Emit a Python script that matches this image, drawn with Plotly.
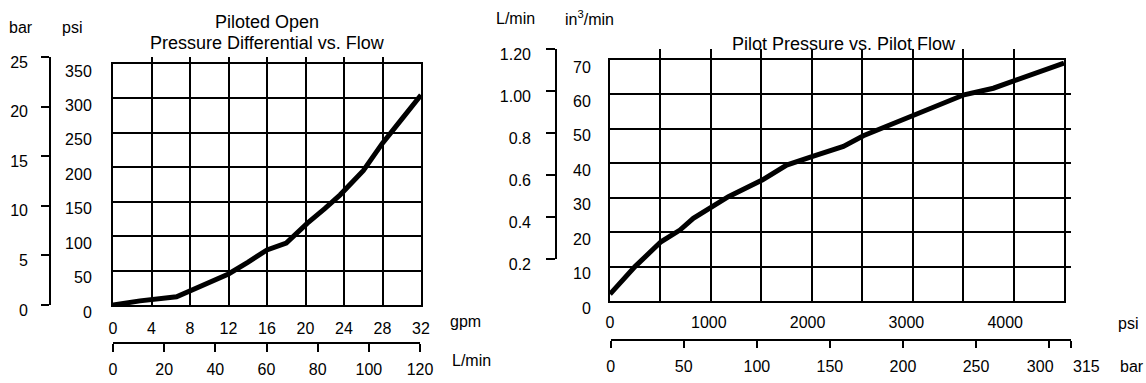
import plotly.graph_objects as go

W, H = 1146, 383

# ---- data: left chart (Piloted Open Pressure Differential vs. Flow)
flow_gpm = [0, 2.8, 6.6, 8.1, 10, 12, 14, 16, 18, 20.2, 22, 23.6, 26, 28, 30, 32]
dp_psi = [0, 6, 12, 21, 33, 45, 62, 80, 90, 119, 140, 160, 195, 235, 270, 305]

# ---- data: right chart (Pilot Pressure vs. Pilot Flow)
pilot_psi = [0, 253, 516, 708, 843, 1035, 1198, 1545, 1788, 2051, 2362, 2564, 2834,
             3070, 3583, 3880, 4082, 4595]
pilot_flow_in3 = [2.0, 10.0, 17.2, 20.6, 24.0, 27.4, 30.3, 35.2, 39.5, 42.0, 44.9, 48.0,
                  51.2, 54.1, 59.9, 61.8, 63.8, 69.1]

# tick labels
gpm_ticks = [0, 4, 8, 12, 16, 20, 24, 28, 32]
lmin_ticks = [0, 20, 40, 60, 80, 100, 120]
psi_ticks_left = [0, 50, 100, 150, 200, 250, 300, 350]
bar_ticks_left = [0, 5, 10, 15, 20, 25]
psi_ticks_right = [0, 1000, 2000, 3000, 4000]
bar_ticks_right = [0, 50, 100, 150, 200, 250, 300, 315]
bar_text_right = ["0", "50", "100", "150", "200", "250", "300" + "\u00a0" * 4, ""]
bar_last_label = 315
in3_ticks = [0, 10, 20, 30, 40, 50, 60, 70]
lmin_right_ticks = [0.2, 0.4, 0.6, 0.8, 1.0, 1.2]
lmin_right_text = ["0.2", "0.4", "0.6", "0.8", "1.00", "1.20"]


def px(x):
    return x / W


def py(y):
    return 1 - y / H


FONT = "Liberation Sans, Arial, sans-serif"
TF = dict(family=FONT, size=16, color="black")

fig = go.Figure()

# left curve
fig.add_trace(go.Scatter(x=flow_gpm, y=dp_psi, mode="lines", xaxis="x", yaxis="y",
                         line=dict(color="black", width=5), showlegend=False, hoverinfo="skip"))
# helper empty traces so every axis is drawn
fig.add_trace(go.Scatter(x=[], y=[], xaxis="x2", yaxis="y", showlegend=False))
fig.add_trace(go.Scatter(x=[], y=[], xaxis="x", yaxis="y2", showlegend=False))
fig.add_trace(go.Scatter(x=[], y=[], xaxis="x3", yaxis="y3", showlegend=False))
# right curve
fig.add_trace(go.Scatter(x=pilot_psi, y=pilot_flow_in3, mode="lines", xaxis="x4", yaxis="y3",
                         line=dict(color="black", width=5), showlegend=False, hoverinfo="skip"))
fig.add_trace(go.Scatter(x=[], y=[], xaxis="x3", yaxis="y4", showlegend=False))
fig.add_trace(go.Scatter(x=[], y=[], xaxis="x5", yaxis="y3", showlegend=False))

grid = dict(showgrid=True, gridcolor="black", gridwidth=1.6, zeroline=False,
            showline=True, linecolor="black", linewidth=2, mirror=True, automargin=False)
bracket = dict(showgrid=False, zeroline=False, showline=True, linecolor="black",
               linewidth=1.6, ticks="outside", tickwidth=1.6, tickcolor="black",
               automargin=False)

layout = dict(
    width=W, height=H, margin=dict(l=0, r=0, t=0, b=0, pad=0, autoexpand=False),
    paper_bgcolor="white", plot_bgcolor="rgba(0,0,0,0)", showlegend=False,
    font=TF,
    # left chart gpm axis (grid)
    xaxis=dict(domain=[px(113), px(421)], range=[0, 32], tickvals=gpm_ticks, anchor="y",
               ticks="", tickfont=TF, ticklabelstandoff=8, tickangle=0, **grid),
    yaxis=dict(domain=[py(305), py(64)], range=[0, 350], tickvals=psi_ticks_left, anchor="x",
               ticks="", tickfont=TF, ticklabelstandoff=16, ticklabelshift=7, **grid),
    # left chart L/min axis
    xaxis2=dict(domain=[px(113), px(420)], range=[0, 120], tickvals=lmin_ticks, anchor="free",
                position=py(343), side="bottom", ticklen=8, tickfont=TF,
                ticklabelstandoff=4, tickangle=0, **bracket),
    # left chart bar axis
    yaxis2=dict(domain=[py(305), py(57)], range=[0, 25], tickvals=bar_ticks_left, anchor="free",
                position=px(50), side="left", ticklen=8, tickfont=TF,
                ticklabelstandoff=10, ticklabelshift=5, **bracket),
    # right chart grid axis
    xaxis3=dict(domain=[px(610), px(1064)], range=[0, 9], dtick=1, anchor="y3",
                showticklabels=False, ticks="", **grid),
    yaxis3=dict(domain=[py(301), py(60)], range=[0, 70], tickvals=in3_ticks, anchor="x3",
                ticks="", tickfont=TF, ticklabelstandoff=14, ticklabelshift=7, **grid),
    # right chart psi labels
    xaxis4=dict(overlaying="x3", range=[0, 4595], tickvals=psi_ticks_right, anchor="y3",
                side="bottom", showgrid=False, zeroline=False, showline=False, ticks="",
                tickfont=TF, ticklabelstandoff=10, tickangle=0, automargin=False),
    # right chart L/min axis
    yaxis4=dict(domain=[py(259), py(49)], range=[0.2, 1.2], tickvals=lmin_right_ticks,
                ticktext=lmin_right_text, anchor="free", position=px(556), side="left",
                ticklen=9, tickfont=TF, ticklabelstandoff=12, ticklabelshift=5, **bracket),
    # right chart bar axis
    xaxis5=dict(domain=[px(610.7), px(1071)], range=[0, 315], tickvals=bar_ticks_right,
                ticktext=bar_text_right, anchor="free", position=py(340), side="bottom",
                ticklen=7, tickfont=TF, ticklabelstandoff=5, tickangle=0, **bracket),
)
fig.update_layout(**layout)

# last bar tick label, placed on the bar axis itself, nudged right of its tick
fig.add_annotation(text=str(bar_last_label), x=bar_last_label, xref="x5", y=py(366),
                   yref="paper", xanchor="left", yanchor="middle", xshift=0,
                   showarrow=False, font=TF)

TITLE_F = dict(family=FONT, size=18, color="black")


def ann(text, x, y, f=TF):
    fig.add_annotation(text=text, x=px(x), y=py(y), xref="paper", yref="paper",
                       xanchor="center", yanchor="middle", showarrow=False, font=f)


ann("bar", 21, 27)
ann("psi", 72, 27)
ann("Piloted Open", 267, 22, TITLE_F)
ann("Pressure Differential vs. Flow", 267, 43, TITLE_F)
ann("gpm", 465, 321)
ann("L/min", 471, 360)
ann("L/min", 515, 18)
ann("in<sup>3</sup>/min", 589, 18)
ann("Pilot Pressure vs. Pilot Flow", 844, 44, TITLE_F)
ann("psi", 1128, 323)
ann("bar", 1132, 366)

fig.write_html("out.html",
               config={"displayModeBar": False},
               post_script="document.body.style.margin='0px';"
                           "document.body.style.overflow='hidden';")
